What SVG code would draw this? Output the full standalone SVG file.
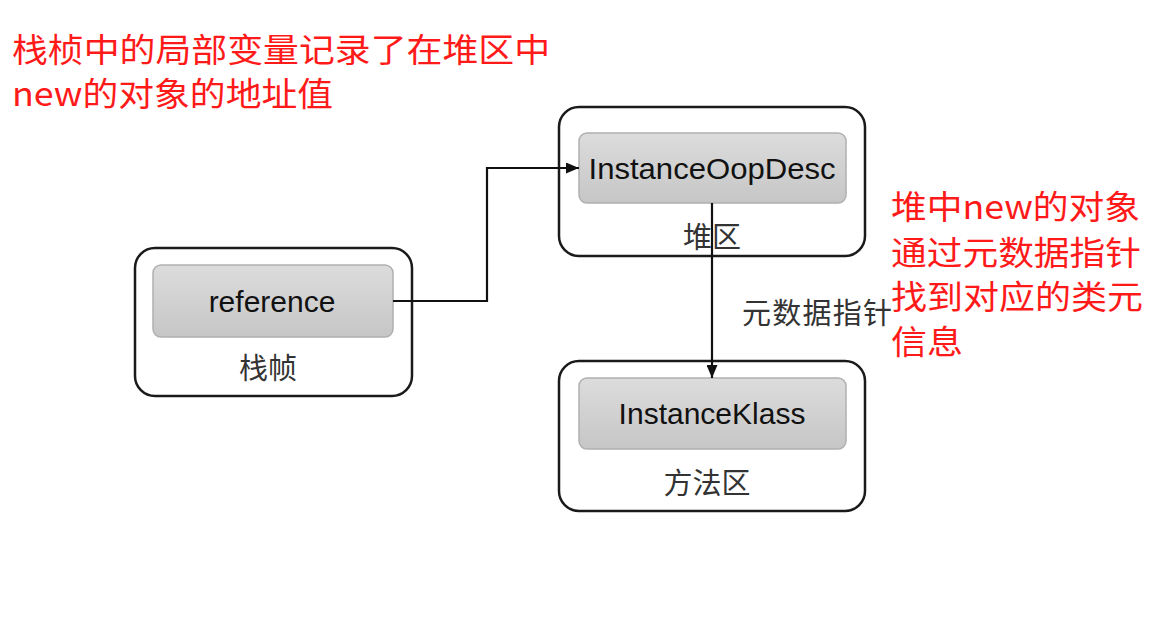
<svg xmlns="http://www.w3.org/2000/svg" width="1153" height="618" viewBox="0 0 1153 618">
<style>
.outer{fill:#fff;stroke:#1a1a1a;stroke-width:2.5}
.inner{fill:url(#g);stroke:#b0b0b0;stroke-width:1.5}
.en{font-family:"Liberation Sans",Arial,sans-serif;font-size:30px;fill:#111;text-anchor:middle}
.zh{font-family:"Noto Sans CJK SC",sans-serif;font-size:29px;fill:#333;text-anchor:middle}
.red{font-family:"Noto Sans CJK SC",sans-serif;font-size:33px;fill:#ff1a1a}
.conn{fill:none;stroke:#111;stroke-width:2.2}
</style>
<defs>
<linearGradient id="g" x1="0" y1="0" x2="0" y2="1">
<stop offset="0" stop-color="#dcdcdc"/>
<stop offset="1" stop-color="#c6c6c6"/>
</linearGradient>
<marker id="arr" viewBox="0 0 13 11" refX="13" refY="5.5" markerWidth="13" markerHeight="11" markerUnits="userSpaceOnUse" orient="auto">
<path d="M0,0 L13,5.5 L0,11 Z" fill="#111"/>
</marker>
</defs>
<rect width="1153" height="618" fill="#fff"/>

<g id="stack-frame">
<rect class="outer" x="135" y="248" width="277" height="148" rx="20"/>
<rect class="inner" x="153" y="265" width="240" height="72" rx="8"/>
<text class="en" x="272" y="312">reference</text>
<text class="zh" x="268" y="379">栈帧</text>
</g>

<g id="heap">
<rect class="outer" x="559" y="107" width="306" height="149" rx="20"/>
<rect class="inner" x="579" y="133" width="267" height="70" rx="8"/>
<text class="en" x="712" y="179" textLength="247" lengthAdjust="spacingAndGlyphs">InstanceOopDesc</text>
<text class="zh" x="712" y="248">堆区</text>
</g>

<g id="method-area">
<rect class="outer" x="559" y="361" width="306" height="150" rx="20"/>
<rect class="inner" x="579" y="378" width="267" height="71" rx="8"/>
<text class="en" x="712" y="424">InstanceKlass</text>
<text class="zh" x="707" y="494">方法区</text>
</g>

<g id="connectors">
<polyline class="conn" points="393,301 487,301 487,168 579,168" marker-end="url(#arr)"/>
<line class="conn" x1="712" y1="203" x2="712" y2="378" marker-end="url(#arr)"/>
<text class="zh" x="742" y="324" style="text-anchor:start" textLength="150">元数据指针</text>
</g>

<g id="notes">
<text class="red" x="12" y="62" textLength="538" lengthAdjust="spacingAndGlyphs">栈桢中的局部变量记录了在堆区中</text>
<text class="red" x="12" y="106" textLength="321" lengthAdjust="spacingAndGlyphs">new的对象的地址值</text>
<text class="red" x="891" y="219" textLength="249" lengthAdjust="spacingAndGlyphs">堆中new的对象</text>
<text class="red" x="891" y="265" textLength="250" lengthAdjust="spacingAndGlyphs">通过元数据指针</text>
<text class="red" x="891" y="309" textLength="252" lengthAdjust="spacingAndGlyphs">找到对应的类元</text>
<text class="red" x="891" y="354" textLength="72" lengthAdjust="spacingAndGlyphs">信息</text>
</g>
</svg>
